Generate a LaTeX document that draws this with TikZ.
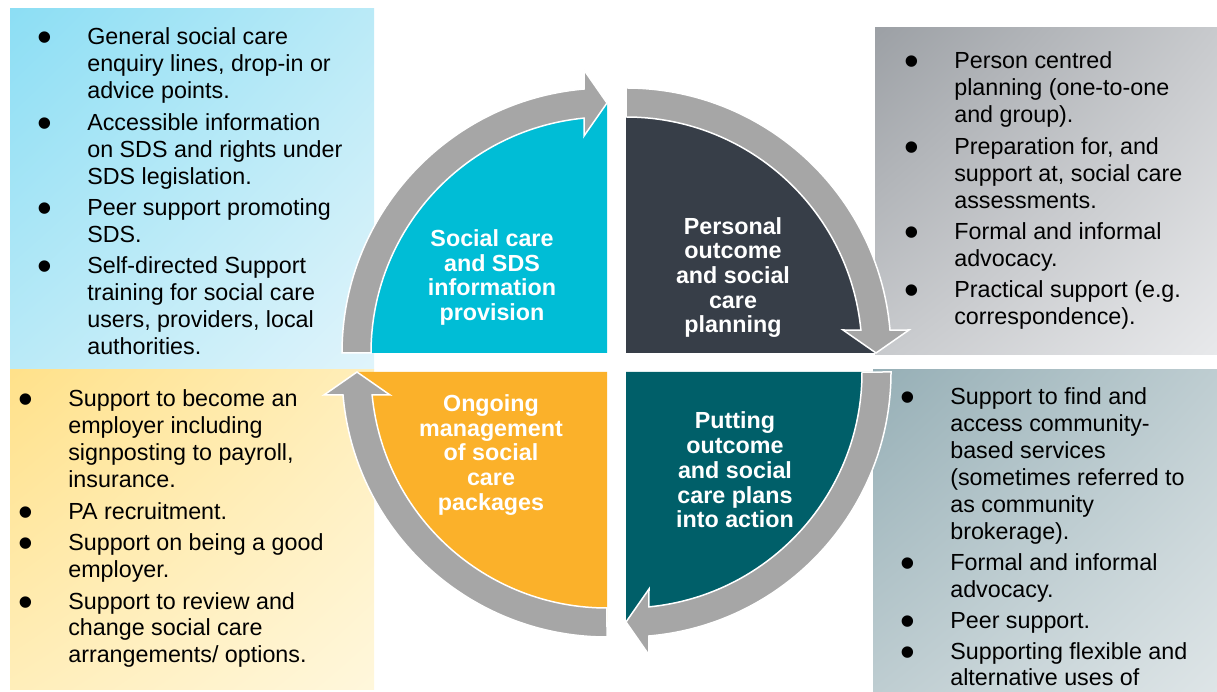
\documentclass[tikz,border=0pt]{standalone}
\usepackage{fontspec}
\setmainfont{Liberation Sans}
\usetikzlibrary{shadings}

\definecolor{infocyan}{RGB}{0,189,214}
\definecolor{plandark}{RGB}{55,62,72}
\definecolor{actionteal}{RGB}{0,95,105}
\definecolor{manageorange}{RGB}{251,177,42}
\definecolor{arrowgrey}{RGB}{166,166,166}
\definecolor{blueA}{RGB}{140,222,244}
\definecolor{blueM}{RGB}{186,234,247}
\definecolor{blueB}{RGB}{224,244,251}
\definecolor{yellowA}{RGB}{255,225,138}
\definecolor{yellowM}{RGB}{255,238,186}
\definecolor{yellowB}{RGB}{255,247,220}
\definecolor{greyA}{RGB}{156,160,165}
\definecolor{greyM}{RGB}{200,202,205}
\definecolor{greyB}{RGB}{232,233,235}
\definecolor{slateA}{RGB}{150,175,182}
\definecolor{slateM}{RGB}{190,205,209}
\definecolor{slateB}{RGB}{222,229,231}

\newcommand{\listdot}{\smash{\raisebox{-7pt}{\fontsize{42}{42}\selectfont\textbullet}}}

\begin{document}
\begin{tikzpicture}[x=1pt, y=1pt,
        listtext/.style={inner sep=0pt, anchor=base west,
            font=\fontsize{23.3}{26.9}\selectfont},
        quadtext/.style={inner sep=0pt, text=white, align=center,
            font=\fontsize{23.3}{24.7}\selectfont\bfseries},
        cyclearrow/.style={fill=arrowgrey, draw=white, line width=1.5pt}]
        \useasboundingbox (0,0) rectangle (1217,692);

        % boxes behind the cycle
        \shade[upper left=blueA, upper right=blueM, lower left=blueM, lower right=blueB]
            (10,322) rectangle (374,683);
        \shade[upper left=yellowA, upper right=yellowM, lower left=yellowM, lower right=yellowB]
            (10,2) rectangle (374,322);
        \shade[upper left=greyA, upper right=greyM, lower left=greyM, lower right=greyB]
            (875,337) rectangle (1217,664);
        \shade[upper left=slateA, upper right=slateM, lower left=slateM, lower right=slateB]
            (873,0) rectangle (1217,322);

        \begin{scope}[shift={(607,339)}]
            \fill[infocyan] (0,0) -- (-250,0) arc[start angle=180, end angle=90, radius=250] -- cycle;
            \draw[cyclearrow] (-265,0) arc[start angle=180, end angle=94.96, radius=265]
                -- (-23,283) -- (0,250) -- (-23,217) -- (-22.9,234.9)
                arc[start angle=95.57, end angle=180, radius=236] -- cycle;
        \end{scope}

        \begin{scope}[shift={(626,339)}]
            \fill[plandark] (0,0) -- (0,250) arc[start angle=90, end angle=0, radius=250] -- cycle;
            \draw[cyclearrow] (0,265) arc[start angle=90, end angle=4.96, radius=265]
                -- (283,23) -- (250,0) -- (217,23) -- (234.9,22.9)
                arc[start angle=5.57, end angle=90, radius=236] -- cycle;
        \end{scope}

        \begin{scope}[shift={(626,320)}]
            \fill[actionteal] (0,0) -- (250,0) arc[start angle=0, end angle=-90, radius=250] -- cycle;
            \draw[cyclearrow] (265,0) arc[start angle=0, end angle=-85.04, radius=265]
                -- (23,-283) -- (0,-250) -- (23,-217) -- (22.9,-234.9)
                arc[start angle=-84.43, end angle=0, radius=236] -- cycle;
        \end{scope}

        \begin{scope}[shift={(607,320)}]
            \fill[manageorange] (0,0) -- (0,-250) arc[start angle=270, end angle=180, radius=250] -- cycle;
            \draw[cyclearrow] (0,-265) arc[start angle=270, end angle=184.96, radius=265]
                -- (-283,-23) -- (-250,0) -- (-217,-23) -- (-234.9,-22.9)
                arc[start angle=185.57, end angle=270, radius=236] -- cycle;
        \end{scope}

        % quadrant titles
        \node[quadtext] (infotitle) at (492,414.5) {Social care\\and SDS\\information\\provision};
        \node[quadtext] (plantitle) at (733,414.5) {Personal\\outcome\\and social\\care\\planning};
        \node[quadtext] (actiontitle) at (735,222) {Putting\\outcome\\and social\\care plans\\into action};
        \node[quadtext] (managetitle) at (491,237) {Ongoing\\management\\of social\\care\\packages};

        % lists in the corner boxes
        \node[listtext] (infolist) at (37.6,647) {\begin{tabular}[t]{@{}c@{\hspace{34.8pt}}l@{}}
            \listdot & General social care\\
            & enquiry lines, drop-in or\\
            & advice points.\\[4.6pt]
            \listdot & Accessible information\\
            & on SDS and rights under\\
            & SDS legislation.\\[4.6pt]
            \listdot & Peer support promoting\\
            & SDS.\\[4.6pt]
            \listdot & Self-directed Support\\
            & training for social care\\
            & users, providers, local\\
            & authorities.
        \end{tabular}};
        \node[listtext] (planlist) at (904.6,623) {\begin{tabular}[t]{@{}c@{\hspace{34.8pt}}l@{}}
            \listdot & Person centred\\
            & planning (one-to-one\\
            & and group).\\[4.6pt]
            \listdot & Preparation for, and\\
            & support at, social care\\
            & assessments.\\[4.6pt]
            \listdot & Formal and informal\\
            & advocacy.\\[4.6pt]
            \listdot & Practical support (e.g.\\
            & correspondence).
        \end{tabular}};
        \node[listtext] (actionlist) at (900.6,287) {\begin{tabular}[t]{@{}c@{\hspace{34.8pt}}l@{}}
            \listdot & Support to find and\\
            & access community-\\
            & based services\\
            & (sometimes referred to\\
            & as community\\
            & brokerage).\\[4pt]
            \listdot & Formal and informal\\
            & advocacy.\\[4pt]
            \listdot & Peer support.\\[4pt]
            \listdot & Supporting flexible and\\
            & alternative uses of
        \end{tabular}};
        \node[listtext] (managelist) at (18.6,285) {\begin{tabular}[t]{@{}c@{\hspace{34.8pt}}l@{}}
            \listdot & Support to become an\\
            & employer including\\
            & signposting to payroll,\\
            & insurance.\\[4.6pt]
            \listdot & PA recruitment.\\[4.6pt]
            \listdot & Support on being a good\\
            & employer.\\[4.6pt]
            \listdot & Support to review and\\
            & change social care\\
            & arrangements/ options.
        \end{tabular}};

    \end{tikzpicture}
\end{document}
